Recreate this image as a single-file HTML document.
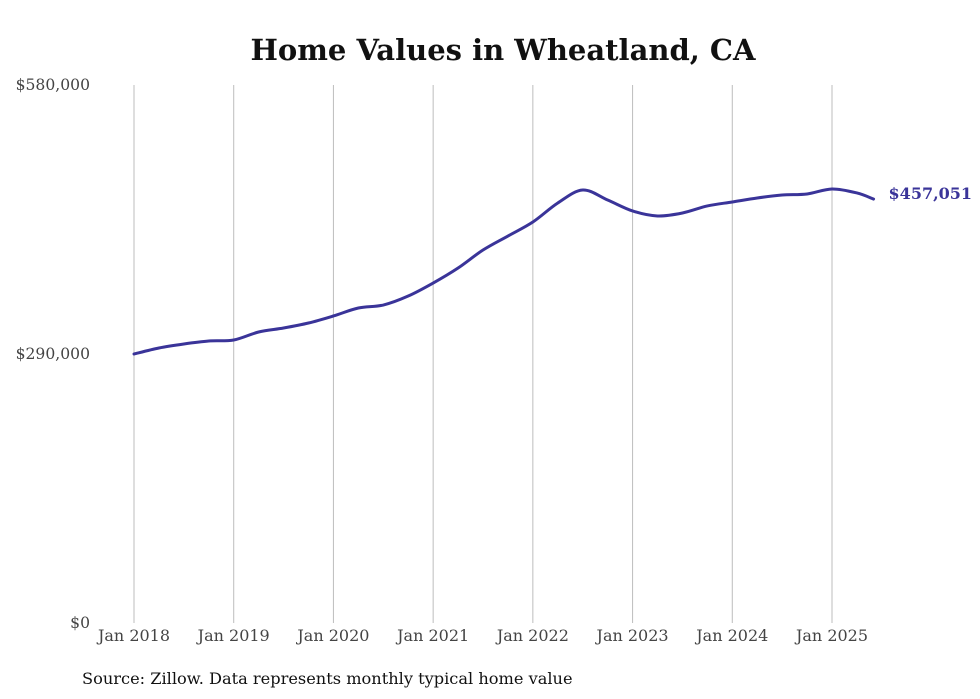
<!DOCTYPE html>
<html><head><meta charset="utf-8"><style>
body{margin:0;background:#fff;}
svg{display:block;font-family:"DejaVu Serif","Liberation Serif",serif;}
</style></head><body>
<svg id="chart" width="980" height="699" viewBox="0 0 980 699">
<text x="503" y="60" text-anchor="middle" font-size="29" font-weight="bold" fill="#111">Home Values in Wheatland, CA</text>
<g id="grid"></g><g id="yaxis"></g><g id="xaxis"></g><g id="series"></g>
<text x="82" y="684" font-size="16.2" fill="#111">Source: Zillow. Data represents monthly typical home value</text>
</svg>
<script>
const monthIndex=[0,3,6,9,12,15,18,21,24,27,30,33,36,39,42,45,48,51,54,57,60,63,66,69,72,75,78,81,84,87,89];
const values=[290.0,296.5,300.8,304.0,305.1,313.7,318.0,323.4,331.0,339.6,342.8,352.5,366.5,382.7,402.1,417.2,432.3,452.8,466.8,456.0,444.2,438.8,442.0,449.6,453.9,458.2,461.4,462.5,467.9,463.6,457.051];
const yTicks=[0,290,580];
const yTickLabels=["$0","$290,000","$580,000"];
const xTickLabels=["Jan 2018","Jan 2019","Jan 2020","Jan 2021","Jan 2022","Jan 2023","Jan 2024","Jan 2025"];
const endLabel="$457,051";
const NS="http://www.w3.org/2000/svg";
const x=m=>134+m*(698/84);
const y=v=>623-v*(538/580);
function mk(t,a,p){const e=document.createElementNS(NS,t);for(const k in a)e.setAttribute(k,a[k]);p.appendChild(e);return e;}
const grid=document.getElementById('grid'),ya=document.getElementById('yaxis'),xa=document.getElementById('xaxis'),se=document.getElementById('series');
xTickLabels.forEach((l,i)=>{
 const g=mk('line',{x1:x(i*12),x2:x(i*12),y1:85,y2:623,stroke:'#bdbdbd','stroke-width':1},grid);
 
 
 const t=mk('text',{x:x(i*12),y:641,'text-anchor':'middle','font-size':16,fill:'#444'},xa);t.textContent=l;
 
 
});
yTicks.forEach((v,i)=>{
 const t=mk('text',{x:90,y:y(v)+5,'text-anchor':'end','font-size':15.6,fill:'#444'},ya);t.textContent=yTickLabels[i];
 
 
});
const pts=monthIndex.map((m,i)=>[x(m),y(values[i])]);
let d='M'+pts[0][0]+','+pts[0][1];
for(let i=0;i<pts.length-1;i++){
 const p0=pts[Math.max(0,i-1)],p1=pts[i],p2=pts[i+1],p3=pts[Math.min(pts.length-1,i+2)];
 const c1=[p1[0]+(p2[0]-p0[0])/6,p1[1]+(p2[1]-p0[1])/6],c2=[p2[0]-(p3[0]-p1[0])/6,p2[1]-(p3[1]-p1[1])/6];
 d+=`C${c1[0]},${c1[1]} ${c2[0]},${c2[1]} ${p2[0]},${p2[1]}`;
}
const path=mk('path',{d:d,fill:'none',stroke:'#3a3499','stroke-width':3,'stroke-linejoin':'round','stroke-linecap':'round'},se);


const last=pts[pts.length-1];
const lt=mk('text',{x:last[0]+15,y:last[1]+0,'font-size':16,'font-weight':'bold',fill:'#3a3499'},se);lt.textContent=endLabel;


</script>
</body></html>
